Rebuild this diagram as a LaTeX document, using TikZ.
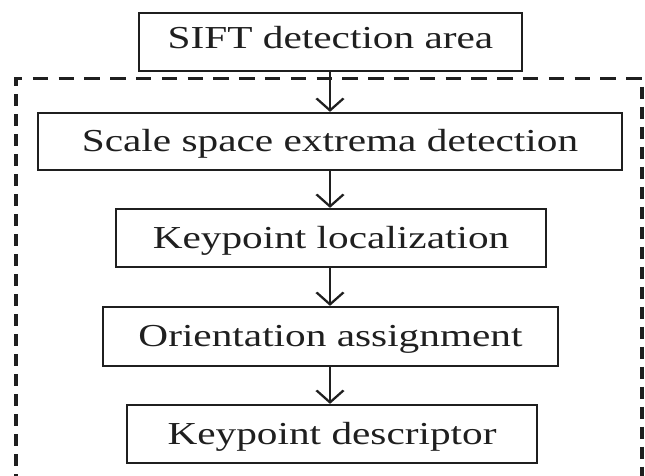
\documentclass[tikz,border=0pt]{standalone}
\usepackage{fontspec}
\setmainfont{Liberation Serif}
\usetikzlibrary{arrows.meta}
\begin{document}
\begin{tikzpicture}[x=1pt,y=1pt,
  stepbox/.style={draw=black!88, line width=2.2pt, inner sep=0pt,
    font=\fontsize{32}{36}\selectfont, text=black!88, text height=21pt, text depth=0pt},
  conn/.style={draw=black!88, line width=2pt, -{Straight Barb[length=12pt,width=21pt,line width=2pt]}},
  frame/.style={draw=black!88, line width=3pt, dash pattern=on 12pt off 8pt}]
\useasboundingbox (0,0) rectangle (645,476);
\clip (0,0) rectangle (645,476);
\begin{scope}[transform canvas={xscale=1.29}]
\coordinate (fl) at (12.4,-10);
\coordinate (ftl) at (12.4,397);
\coordinate (ftr) at (497.7,397);
\coordinate (fr) at (497.7,-10);
\draw[frame] (fl) -- (ftl) -- (ftr) -- (fr);
\node[stepbox, minimum width=296.9pt, minimum height=58pt, text depth=8pt] (b1) at (256.2,434) {SIFT detection area};
\node[stepbox, minimum width=452.7pt, minimum height=57pt] (b2) at (255.8,334.5) {Scale space extrema detection};
\node[stepbox, minimum width=333.3pt, minimum height=58pt] (b3) at (256.6,238) {Keypoint localization};
\node[stepbox, minimum width=352.7pt, minimum height=59pt] (b4) at (256.2,139.5) {Orientation assignment};
\node[stepbox, minimum width=317.8pt, minimum height=58pt] (b5) at (257.4,42) {Keypoint descriptor};
\coordinate (ax) at (255.8,0);
\draw[conn] (b1.south -| ax) -- (b2.north -| ax);
\draw[conn] (b2.south -| ax) -- (b3.north -| ax);
\draw[conn] (b3.south -| ax) -- (b4.north -| ax);
\draw[conn] (b4.south -| ax) -- (b5.north -| ax);
\end{scope}
\end{tikzpicture}
\end{document}
